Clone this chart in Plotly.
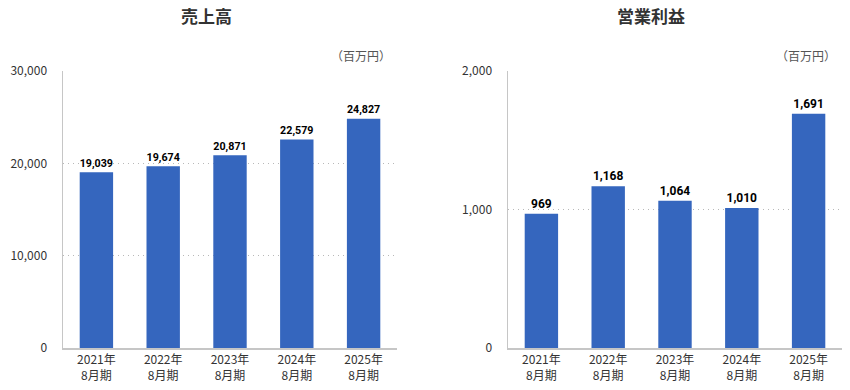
import plotly.graph_objects as go

categories = ["2021年<br>8月期", "2022年<br>8月期", "2023年<br>8月期", "2024年<br>8月期", "2025年<br>8月期"]
sales = [19039, 19674, 20871, 22579, 24827]
op_income = [969, 1168, 1064, 1010, 1691]
sales_ticks = [0, 10000, 20000, 30000]
op_ticks = [0, 1000, 2000]

BAR = "#3566BE"
TXT = "#333333"
FONT = "Noto Sans CJK JP"
W, H = 850, 390


def px(x):
    return x / W


def py(y):
    return 1 - y / H


fig = go.Figure()
fig.add_trace(go.Bar(x=categories, y=sales, marker_color=BAR, width=0.5,
                     text=[f"{v:,}" for v in sales], textposition="outside",
                     textfont=dict(family="Roboto", size=12, color="#000000", weight="bold"),
                     cliponaxis=False, hoverinfo="skip", xaxis="x", yaxis="y"))
fig.add_trace(go.Bar(x=categories, y=op_income, marker_color=BAR, width=0.5,
                     text=[f"{v:,}" for v in op_income], textposition="outside",
                     textfont=dict(family="Roboto", size=12, color="#000000", weight="bold"),
                     cliponaxis=False, hoverinfo="skip", xaxis="x2", yaxis="y2"))

ydom = [py(348), py(71)]
axis_common = dict(showline=True, linecolor="#c6c6c6", linewidth=1.5, automargin=False,
                   tickfont=dict(family=FONT, size=12, color=TXT), fixedrange=True)
grid_common = dict(showgrid=True, gridcolor="#b8b8b8", griddash="1px,4px", gridwidth=1,
                   zeroline=False, ticks="", ticklabelstandoff=12, tickformat=",")
fig.update_layout(
    template="none",
    width=W, height=H, margin=dict(l=0, r=0, t=0, b=0, pad=0),
    paper_bgcolor="white", plot_bgcolor="white", showlegend=False,
    font=dict(family=FONT, color=TXT),
    bargap=0.5,
    xaxis=dict(domain=[px(63), px(397)], anchor="y", showgrid=False, ticks="", **axis_common),
    xaxis2=dict(domain=[px(508), px(842)], anchor="y2", showgrid=False, ticks="", **axis_common),
    yaxis=dict(domain=ydom, anchor="x", range=[0, 30000], tickvals=sales_ticks,
               **grid_common, **axis_common),
    yaxis2=dict(domain=ydom, anchor="x2", range=[0, 2000], tickvals=op_ticks,
                **grid_common, **axis_common),
)

fig.add_annotation(text="<b>売上高</b>", x=px(206), y=py(16), xref="paper", yref="paper",
                   xanchor="center", yanchor="middle", showarrow=False,
                   font=dict(family=FONT, size=17, color=TXT))
fig.add_annotation(text="<b>営業利益</b>", x=px(651), y=py(16), xref="paper", yref="paper",
                   xanchor="center", yanchor="middle", showarrow=False,
                   font=dict(family=FONT, size=17, color=TXT))
fig.add_annotation(text="（百万円）", x=px(393), y=py(56), xref="paper", yref="paper",
                   xanchor="right", yanchor="middle", showarrow=False,
                   font=dict(family=FONT, size=12, color="#555555"))
fig.add_annotation(text="（百万円）", x=px(838), y=py(56), xref="paper", yref="paper",
                   xanchor="right", yanchor="middle", showarrow=False,
                   font=dict(family=FONT, size=12, color="#555555"))

fig.write_html("out.html", config={"displayModeBar": False, "staticPlot": True},
               post_script="document.body.style.margin='0';document.body.style.padding='0';")
